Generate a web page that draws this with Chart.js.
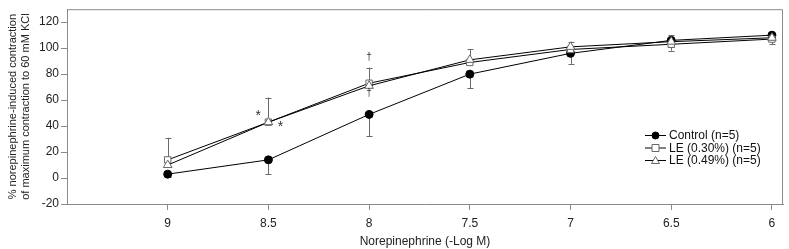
<!DOCTYPE html>
<html>
<head>
<meta charset="utf-8">
<script src="https://cdn.jsdelivr.net/npm/chart.js@4.4.0/dist/chart.umd.min.js"></script>
<style>
  html, body { margin: 0; padding: 0; background: #fff; }
  #wrap { width: 789px; height: 249px; position: relative; }
</style>
</head>
<body>
<div id="wrap"><canvas id="doseChart"></canvas></div>
<script>
// norepinephrine dose (-Log M)
const doses = [9, 8.5, 8, 7.5, 7, 6.5, 6];
const yTicks = [-20, 0, 20, 40, 60, 80, 100, 120];

// % contraction
const control = [3, 14, 49, 80, 96, 106, 110];
const le030 = [14, 43, 73, 89, 99, 103, 107];
const le049 = [10, 43, 71, 91, 101, 105, 108];

// SEM bars (control drawn down, LE 0.30% drawn up, LE 0.49% down)
const controlErr = [2, 11, 17, 11, 8, 5, 3];
const le030Err = [17, 19, 12, 10, 6, 7, 4];
const le049Err = [0, 0, 0, 0, 0, 7, 5];

// significance marks
const marks = [
  { x: 8.55, y: 48, t: "*" },
  { x: 8.44, y: 39, t: "*" },
  { x: 8, y: 93, t: "\u2020" },
  { x: 8, y: 65, t: "\u2020" },
];

const FONT = "'Liberation Sans Narrow', 'Arial Narrow', 'Liberation Sans', sans-serif";
const AXIS_COLOR = "#8a8a8a";

function pts(vals) {
  return doses.map((d, i) => ({ x: d, y: vals[i] }));
}

const series = [
  { label: "Control (n=5)", data: control, err: controlErr, dir: -1, style: "circle", fill: "#000", border: "#000", radius: 4 },
  { label: "LE (0.30%) (n=5)", data: le030, err: le030Err, dir: 1, style: "rect", fill: "#fff", border: "#666", radius: 4.5 },
  { label: "LE (0.49%) (n=5)", data: le049, err: le049Err, dir: -1, style: "triangle", fill: "#fff", border: "#666", radius: 5 },
];

// error bars under the markers
const errorBars = {
  id: "errorBars",
  beforeDatasetsDraw(chart) {
    const ctx = chart.ctx;
    const xs = chart.scales.x, ys = chart.scales.y;
    ctx.save();
    ctx.strokeStyle = "#6a6a6a";
    ctx.lineWidth = 1;
    series.forEach((s) => {
      s.err.forEach((e, i) => {
        if (!e) return;
        const px = Math.round(xs.getPixelForValue(doses[i])) + 0.5;
        const y0 = ys.getPixelForValue(s.data[i]);
        const y1 = ys.getPixelForValue(s.data[i] + s.dir * e);
        ctx.beginPath();
        ctx.moveTo(px, y0);
        ctx.lineTo(px, y1);
        ctx.moveTo(px - 3, Math.round(y1) + 0.5);
        ctx.lineTo(px + 3, Math.round(y1) + 0.5);
        ctx.stroke();
      });
    });
    ctx.restore();
  },
};

// box, significance marks and legend
const extras = {
  id: "extras",
  afterDraw(chart) {
    const ctx = chart.ctx;
    const a = chart.chartArea;
    const xs = chart.scales.x, ys = chart.scales.y;
    ctx.save();
    ctx.strokeStyle = AXIS_COLOR;
    ctx.lineWidth = 1;
    ctx.beginPath();
    ctx.moveTo(a.left, a.top + 0.5);
    ctx.lineTo(a.right - 0.5, a.top + 0.5);
    ctx.lineTo(a.right - 0.5, a.bottom);
    ctx.stroke();

    ctx.fillStyle = "#333";
    ctx.textAlign = "center";
    ctx.textBaseline = "middle";
    marks.forEach((m) => {
      ctx.font = (m.t === "*" ? "14px " : "10px ") + FONT;
      ctx.fillText(m.t, xs.getPixelForValue(m.x), ys.getPixelForValue(m.y));
    });

    // legend
    const lx = 645, tx = 669;
    const rows = [135, 147.5, 160];
    ctx.font = "12px " + FONT;
    ctx.textAlign = "left";
    series.forEach((s, i) => {
      const y = rows[i];
      ctx.strokeStyle = "#000";
      ctx.beginPath();
      ctx.moveTo(lx, y + 0.5);
      ctx.lineTo(lx + 21, y + 0.5);
      ctx.stroke();
      const cx = lx + 10.5;
      ctx.lineWidth = 1;
      ctx.strokeStyle = s.border;
      ctx.fillStyle = s.fill;
      ctx.beginPath();
      if (s.style === "circle") {
        ctx.arc(cx, y + 0.5, 3.5, 0, Math.PI * 2);
      } else if (s.style === "rect") {
        ctx.rect(cx - 3.5, y - 3, 7, 7);
      } else {
        ctx.moveTo(cx, y - 3.5);
        ctx.lineTo(cx + 4, y + 3.5);
        ctx.lineTo(cx - 4, y + 3.5);
        ctx.closePath();
      }
      ctx.fill();
      ctx.stroke();
      ctx.fillStyle = "#111";
      ctx.fillText(s.label, tx, y + 1);
    });
    ctx.restore();
  },
};

const ctx = document.getElementById("doseChart");
new Chart(ctx, {
  type: "line",
  data: {
    datasets: series.map((s) => ({
      label: s.label,
      data: pts(s.data),
      borderColor: "#000",
      borderWidth: 1,
      pointStyle: s.style,
      pointRadius: s.radius,
      pointBackgroundColor: s.fill,
      pointBorderColor: s.border,
      pointBorderWidth: 1,
      tension: 0,
    })).reverse(),
  },
  options: {
    responsive: true,
    maintainAspectRatio: false,
    animation: false,
    layout: { padding: { top: 6, right: 5, left: 7, bottom: 0 } },
    plugins: { legend: { display: false }, tooltip: { enabled: false } },
    scales: {
      x: {
        type: "linear",
        reverse: true,
        min: 5.945,
        max: 9.5,
        afterBuildTicks: (scale) => {
          scale.ticks = doses.map((d) => ({ value: d }));
        },
        afterFit: (scale) => { scale.height = 45; },
        ticks: {
          color: "#222",
          font: { family: FONT, size: 12 },
          padding: 6,
          maxRotation: 0,
          callback: (v) => String(v),
        },
        grid: { drawOnChartArea: false, drawTicks: true, tickLength: 6, color: AXIS_COLOR },
        border: { color: AXIS_COLOR },
        title: {
          display: true,
          text: "Norepinephrine (-Log M)",
          color: "#222",
          font: { family: FONT, size: 12 },
          padding: { top: 0, bottom: 0 },
        },
      },
      y: {
        min: -20,
        max: 130,
        afterBuildTicks: (scale) => {
          scale.ticks = yTicks.map((v) => ({ value: v }));
        },
        afterFit: (scale) => { scale.width = 60; },
        ticks: {
          color: "#222",
          font: { family: FONT, size: 12 },
          padding: 2,
        },
        grid: { drawOnChartArea: false, drawTicks: true, tickLength: 6, color: AXIS_COLOR },
        border: { color: AXIS_COLOR },
        title: {
          display: true,
          text: ["% norepinephrine-induced contraction", "of maximum contraction to 60 mM KCl"],
          color: "#222",
          font: { family: FONT, size: 11, lineHeight: 1.15 },
          padding: { top: 0, bottom: 4 },
        },
      },
    },
  },
  plugins: [errorBars, extras],
});
</script>
</body>
</html>
